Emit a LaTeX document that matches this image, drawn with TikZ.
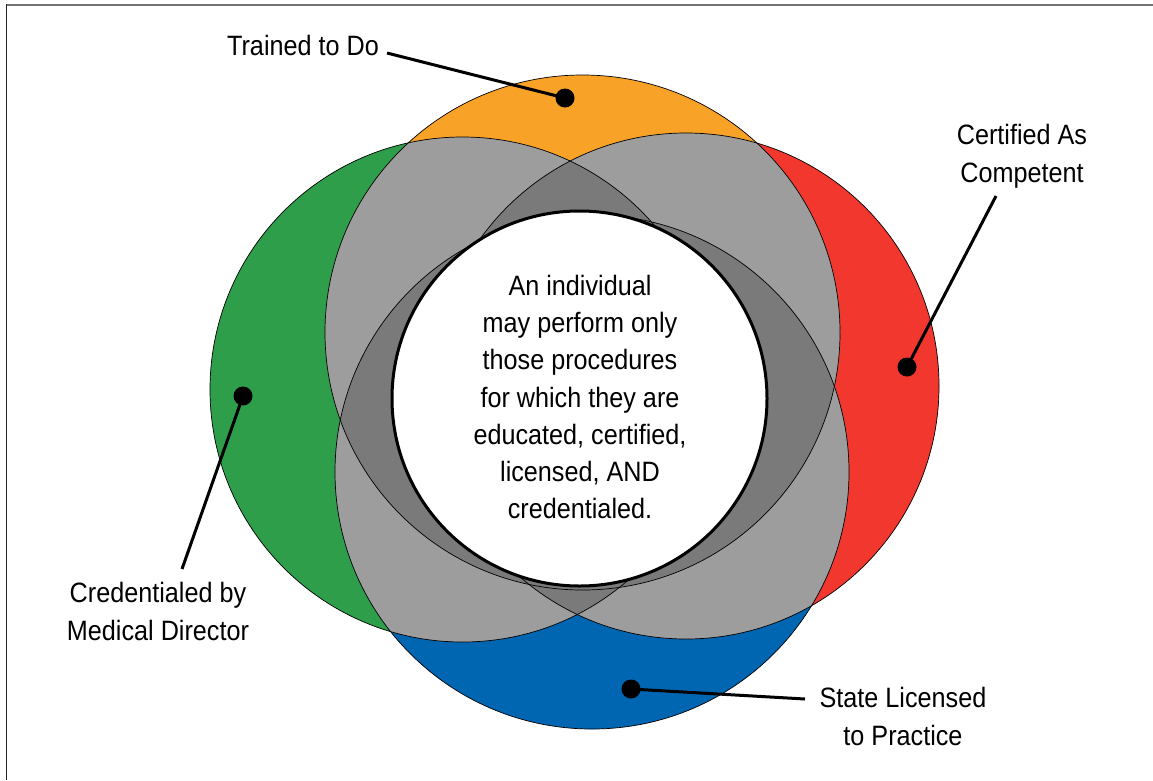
\documentclass[tikz,border=0pt]{standalone}
\usepackage{fontspec}
\setmainfont[FakeStretch=0.9]{Liberation Sans}
\definecolor{corange}{HTML}{F9A228}
\definecolor{cgreen}{HTML}{2E9E4B}
\definecolor{cred}{HTML}{F1372E}
\definecolor{cblue}{HTML}{0066B2}
\definecolor{lgray}{HTML}{9D9D9D}
\definecolor{dgray}{HTML}{7A7A7A}
\def\cO{(582.5,332.5) circle (257.5pt)}
\def\cG{(462.5,389.5) circle (252.5pt)}
\def\cR{(686,386) circle (253pt)}
\def\cB{(592,472) circle (257pt)}
\begin{document}
\begin{tikzpicture}[x=1pt,y=-1pt,
  ring/.style={draw=black,line width=0.7pt},
  lbl/.style={font=\fontsize{28}{38}\selectfont,align=center,inner sep=0pt},
  msgtext/.style={font=\fontsize{28}{37.2}\selectfont,align=center,inner sep=0pt},
  dotmark/.style={circle,fill=black,minimum size=19pt,inner sep=0pt},
  leader/.style={line width=3pt,draw=black},
  framelineA/.style={line width=2pt,draw=black!55},
  framelineB/.style={line width=1.5pt,draw=black!85}]
\useasboundingbox (0,0) rectangle (1153,780);
\fill[white] (0,0) rectangle (1153,780);
\draw[framelineA] (6,5) -- (1153,5);
\draw[framelineB] (6.5,4) -- (6.5,780);
% base circles
\fill[cgreen] \cG;
\fill[cred] \cR;
\fill[cblue] \cB;
\fill[corange] \cO;
% pairwise overlaps
\begin{scope}\clip \cO; \fill[lgray] \cG; \fill[lgray] \cR; \fill[lgray] \cB; \end{scope}
\begin{scope}\clip \cG; \fill[lgray] \cR; \fill[lgray] \cB; \end{scope}
\begin{scope}\clip \cR; \fill[lgray] \cB; \end{scope}
% triple overlaps
\begin{scope}\clip \cO; \clip \cG; \fill[dgray] \cR; \fill[dgray] \cB; \end{scope}
\begin{scope}\clip \cO; \clip \cR; \fill[dgray] \cB; \end{scope}
\begin{scope}\clip \cG; \clip \cR; \fill[dgray] \cB; \end{scope}
% outlines
\draw[ring] \cG;
\draw[ring] \cR;
\draw[ring] \cB;
\draw[ring] \cO;
% central circle
\node[circle,draw=black,line width=3pt,fill=white,minimum size=375pt,inner sep=0pt] (core) at (579.5,398.5) {};
\node[msgtext] (msg) at (580,397) {An individual\\may perform only\\those procedures\\for which they are\\educated, certified,\\licensed, AND\\credentialed.};
% labels (base = baseline of last line)
\node[lbl,anchor=base] (lT) at (303,55) {Trained to Do};
\node[lbl,anchor=base] (lC) at (1022,182) {Certified As\\Competent};
\node[lbl,anchor=base] (lM) at (158,640) {Credentialed by\\Medical Director};
\node[lbl,anchor=base] (lS) at (903,745) {State Licensed\\to Practice};
% dots
\node[dotmark] (dT) at (565,98) {};
\node[dotmark] (dC) at (907,367) {};
\node[dotmark] (dM) at (243,396) {};
\node[dotmark] (dS) at (631,689) {};
% leader ends
\coordinate (eT) at (387,53);
\coordinate (eC) at (996,196);
\coordinate (eM) at (182,569);
\coordinate (eS) at (805,699);
\draw[leader] (eT) -- (dT.center);
\draw[leader] (eC) -- (dC.center);
\draw[leader] (eM) -- (dM.center);
\draw[leader] (eS) -- (dS.center);
\end{tikzpicture}
\end{document}
